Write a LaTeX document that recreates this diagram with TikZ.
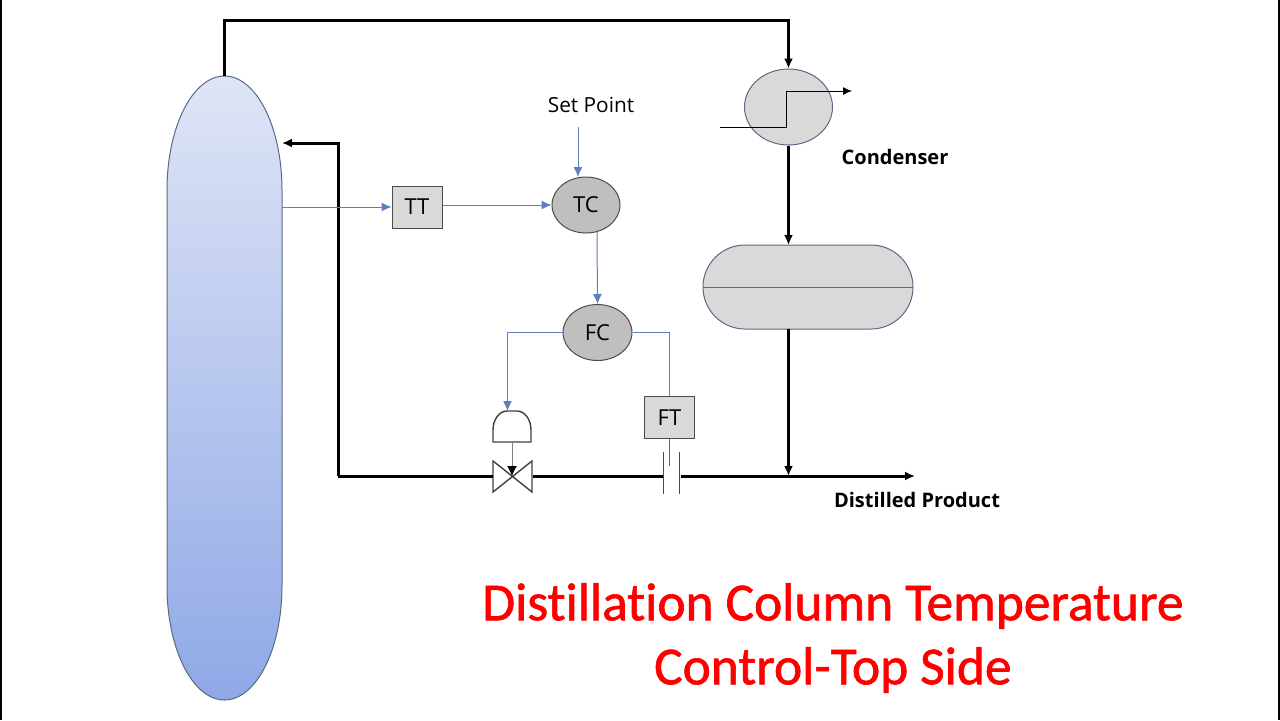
\documentclass[tikz,border=0pt]{standalone}
\usepackage{fontspec}
\setmainfont{Open Sans}
\newfontfamily\titlefont[FakeBold=1.2, Ligatures=NoCommon]{Carlito}
\usetikzlibrary{positioning, arrows.meta, shapes.geometric}
\usepackage{xcolor}
\definecolor{linkblue}{HTML}{5B82BC}
\definecolor{edgeblue}{HTML}{5A6A85}
\definecolor{boxgray}{HTML}{D9D9D9}
\definecolor{ctrlgray}{HTML}{BFBFBF}
\definecolor{coltop}{HTML}{DFE5F6}
\definecolor{colbot}{HTML}{8FA8E6}

\tikzset{
    pipe/.style={line width=1.5pt, black},
    signal/.style={line width=0.5pt, linkblue},
    sigarrow/.style={signal, -{Latex[length=5pt,width=4.5pt]}},
    pipearrow/.style={pipe, -{Latex[length=5pt,width=4.5pt]}},
    transmitter/.style={draw=black!70, fill=boxgray, line width=0.5pt, minimum width=25pt, minimum height=21pt, inner sep=0pt, font=\fontsize{11}{13}\selectfont},
    controller/.style={ellipse, draw=black!70, fill=ctrlgray, line width=0.5pt, minimum width=34.5pt, minimum height=28pt, inner sep=0pt, font=\fontsize{11}{13}\selectfont},
    vessel/.style={fill=boxgray, draw=edgeblue, line width=0.5pt},
    caption/.style={font=\fontsize{10}{12}\selectfont\bfseries},
    headline/.style={text=red, font=\fontsize{26.7}{30}\titlefont}
}

\begin{document}
\begin{tikzpicture}[x=0.5pt, y=-0.5pt]
    \useasboundingbox (0,0) rectangle (1280,720);
    \fill[black] (0,0) rectangle (2,720);
    \fill[black] (1278,0) rectangle (1280,720);

    % Kolonne
    \shade[top color=coltop, bottom color=colbot, draw=edgeblue, line width=0.5pt]
        (167,190) arc[start angle=180, end angle=0, x radius=57.5, y radius=-114]
        -- (282,586) arc[start angle=0, end angle=-180, x radius=57.5, y radius=-114] -- cycle;
    \coordinate (coltop) at (224,76);
    \coordinate (colfeed) at (282,143);
    \coordinate (colout) at (282,207);

    % Kondensator
    \node (cond) at (788.5,107) [ellipse, vessel, minimum width=44pt, minimum height=38pt, inner sep=0pt] {};
    \coordinate (coilin) at (720,127);
    \coordinate (coilout) at (852,91);
    \draw[line width=0.45pt, -{Latex[length=4.5pt,width=4pt]}] (coilin) -- (786,127) -- (786,91) -- (coilout);
    \node[caption] (condlabel) at (895,157) {Condenser};

    % Behaelter
    \draw[vessel] (745,245) -- (871,245) arc[start angle=90, end angle=-90, x radius=42, y radius=-42]
        -- (745,329) arc[start angle=270, end angle=90, x radius=42, y radius=-42] -- cycle;
    \draw[line width=0.5pt, edgeblue] (703,287) -- (913,287);
    \coordinate (drumtop) at (788.5,245);
    \coordinate (drumbot) at (788.5,329);

    % Regler
    \node[transmitter] (TT) at (417,207) {TT};
    \node[controller, minimum width=34pt] (TC) at (586,205) {TC};
    \node[controller] (FC) at (597.5,332.5) {FC};
    \node[transmitter] (FT) at (669.5,417.5) {FT};
    \node[font=\fontsize{10.4}{12}\selectfont] (sp) at (591,105) {Set Point};

    % Stellventil
    \coordinate (vc) at (512,476);
    \draw[line width=0.7pt, black!75] (vc) -- (493,461) -- (493,492) -- (532,461) -- (532,492) -- cycle;
    \draw[line width=0.7pt, black!75] (493,442) -- (493,430) arc[start angle=180, end angle=90, x radius=14, y radius=-19]
        -- (517,411) arc[start angle=90, end angle=0, x radius=14, y radius=-19] -- (531,442) -- cycle;
    \coordinate (acttop) at (507.5,411);
    \coordinate (actbot) at (512,442);
    \draw[line width=0.5pt, black!50, -{Latex[length=5pt,width=5pt,black]}] (actbot) -- (vc);

    % Blende
    \foreach \x in {663,679} {
        \draw[line width=0.5pt, black!70] (\x,452) -- (\x,494);
    }
    \coordinate (orif) at (669.5,466);
    \draw[line width=0.5pt, black!60] (FT.south) -- (orif);

    % Rohrleitungen
    \coordinate (pipeleft) at (338,476);
    \coordinate (tee) at (788.5,476);
    \coordinate (pipeend) at (915,476);
    \draw[pipe] (coltop) -- (224,20) -- (788.5,20) -- (788.5,30);
    \draw[pipearrow] (788.5,20) -- (cond.north);
    \draw[pipearrow] (cond.south) -- (drumtop);
    \draw[pipearrow] (drumbot) -- (tee);
    \draw[pipearrow] (pipeleft) -- (338,143) -- (colfeed);
    \draw[pipe] (pipeleft) -- (493,476);
    \draw[pipe] (533,476) -- (663,476);
    \draw[pipearrow] (681,476) -- (pipeend);
    \node[caption] (prodlabel) at (917,500) {Distilled Product};

    % Signale
    \draw[sigarrow] (colout) -- (TT.west);
    \draw[sigarrow] (TT.east |- TC.west) -- (TC.west);
    \draw[sigarrow] (578,127) -- (578,177);
    \draw[sigarrow] (597,232) -- (FC.north);
    \draw[sigarrow] (FC.west) -- (507.5,332.5) -- (acttop);
    \draw[signal] (FC.east) -- (FT.north |- FC.east) -- (FT.north);

    % Titel
    \node[headline] (title) at (833,606) {Distillation Column Temperature};
    \node[headline] (subtitle) at (833,670) {Control-Top Side};
\end{tikzpicture}
\end{document}
